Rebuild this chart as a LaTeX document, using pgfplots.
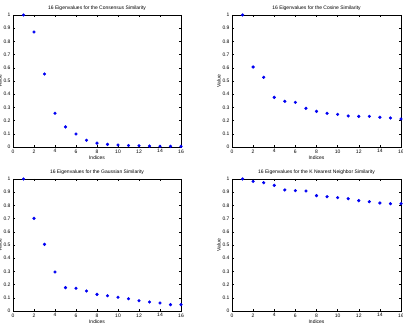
\documentclass[border=0pt]{standalone}
\usepackage{pgfplots}
\pgfplotsset{compat=1.18}
\usepackage{fontspec}
\setmainfont{Liberation Sans}
\definecolor{mblue}{rgb}{0,0,0.95}
\pgfplotsset{
  eig/.style={
    scale only axis, width=168pt, height=132pt, anchor=south west,
    xmin=0, xmax=16, ymin=0, ymax=1,
    xtick={0,2,...,16}, ytick={0,0.1,...,1},
    yticklabels={0,0.1,0.2,0.3,0.4,0.5,0.6,0.7,0.8,0.9,1},
    tick align=inside, major tick length=2pt,
    axis line style={line width=0.8pt},
    every tick/.style={black, line width=0.4pt},
    /pgf/number format/assume math mode=true,
    font=\fontsize{5}{6}\selectfont,
    tick label style={font=\fontsize{5}{6}\selectfont},
    title style={font=\fontsize{5}{6}\selectfont, yshift=-5pt},
    xlabel={Indices}, ylabel={Value},
    xlabel style={yshift=4pt},
    ylabel style={yshift=-5pt},
    xticklabel style={yshift=1pt},
    yticklabel style={xshift=1pt},
  },
  dots/.style={only marks, mark=*, mark size=1.4pt, color=mblue, mark options={fill=mblue, draw=mblue}}
}
\begin{document}
\begin{tikzpicture}
\useasboundingbox (0pt,0pt) rectangle (403pt,331pt);
\begin{axis}[eig, at={(13pt,184pt)}, title={16 Eigenvalues for the Consensus Similarity}]
\addplot[dots] coordinates {(1,1) (2,0.871) (3,0.553) (4,0.256) (5,0.152) (6,0.098) (7,0.051) (8,0.029) (9,0.020) (10,0.015) (11,0.011) (12,0.009) (13,0.007) (14,0.006) (15,0.005) (16,0.005)};
\end{axis}
\begin{axis}[eig, at={(232pt,184pt)}, width=169pt, title={16 Eigenvalues for the Cosine Similarity}]
\addplot[dots] coordinates {(1,1) (2,0.606) (3,0.528) (4,0.376) (5,0.346) (6,0.338) (7,0.293) (8,0.270) (9,0.255) (10,0.247) (11,0.235) (12,0.232) (13,0.232) (14,0.225) (15,0.220) (16,0.212)};
\end{axis}
\begin{axis}[eig, at={(13pt,20pt)}, title={16 Eigenvalues for the Gaussian Similarity}]
\addplot[dots] coordinates {(1,1) (2,0.702) (3,0.505) (4,0.295) (5,0.177) (6,0.172) (7,0.152) (8,0.126) (9,0.116) (10,0.104) (11,0.093) (12,0.078) (13,0.068) (14,0.061) (15,0.048) (16,0.048)};
\end{axis}
\begin{axis}[eig, at={(232pt,20pt)}, width=169pt, title={16 Eigenvalues for the K Nearest Neighbor Similarity}]
\addplot[dots] coordinates {(1,1) (2,0.982) (3,0.972) (4,0.952) (5,0.917) (6,0.912) (7,0.909) (8,0.874) (9,0.866) (10,0.859) (11,0.851) (12,0.836) (13,0.828) (14,0.818) (15,0.813) (16,0.813)};
\end{axis}
\end{tikzpicture}
\end{document}
